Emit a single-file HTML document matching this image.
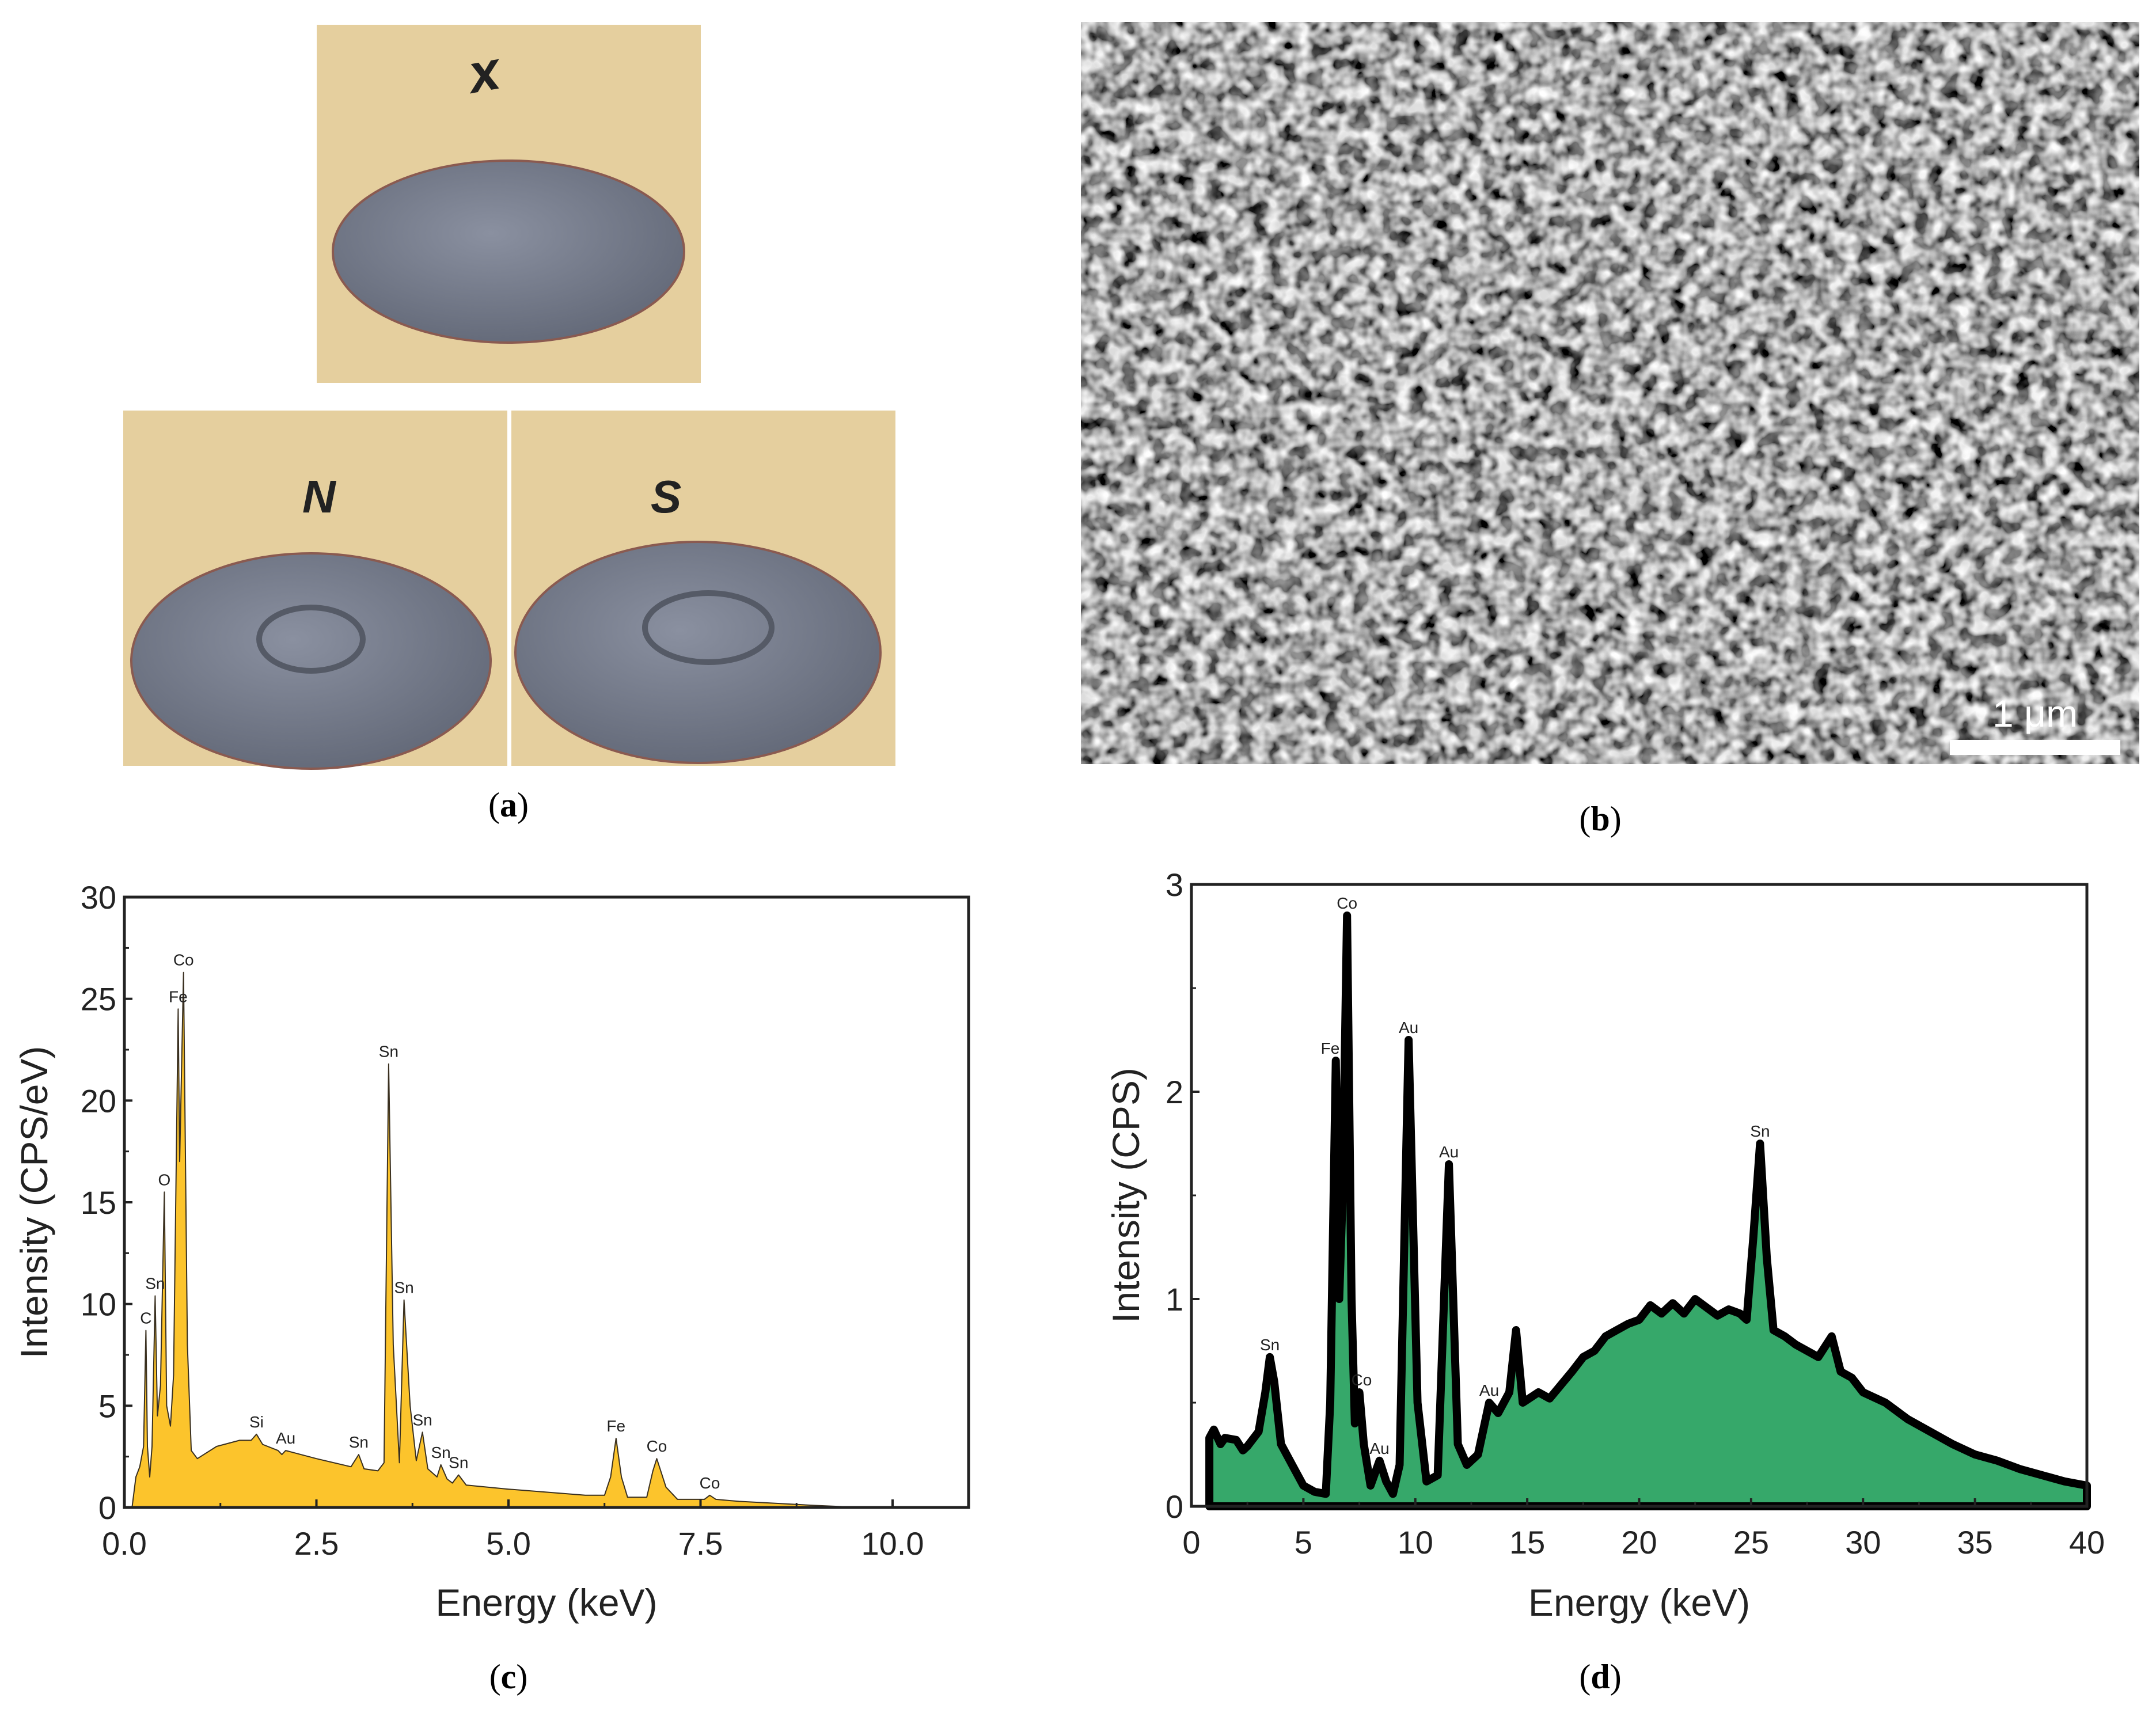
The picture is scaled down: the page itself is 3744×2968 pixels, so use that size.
<!DOCTYPE html>
<html><head><meta charset="utf-8"><style>
html,body{margin:0;padding:0;background:#fff}
body{width:3744px;height:2968px;position:relative;overflow:hidden;font-family:"Liberation Sans",sans-serif}
svg{position:absolute;left:0;top:0}
</style></head><body>
<svg id="fig" width="3744" height="2968" viewBox="0 0 3744 2968">
<defs>
<filter id="sem" x="0" y="0" width="100%" height="100%">
<feTurbulence type="fractalNoise" baseFrequency="0.04" numOctaves="2" seed="4" result="n"/>
<feComponentTransfer in="n" result="g"><feFuncR type="linear" slope="2.8" intercept="-1.0"/><feFuncG type="linear" slope="2.8" intercept="-1.0"/><feFuncB type="linear" slope="2.8" intercept="-1.0"/><feFuncA type="linear" slope="0" intercept="1"/></feComponentTransfer>
<feColorMatrix type="saturate" values="0" in="g"/>
</filter>
<radialGradient id="coin" cx="0.45" cy="0.4" r="0.7"><stop offset="0" stop-color="#8a90a0"/><stop offset="1" stop-color="#5f6574"/></radialGradient>
</defs>
<!-- panel a photos -->
<g>
<rect x="550" y="43" width="667" height="622" fill="#e5cf9e"/>
<ellipse cx="883" cy="437" rx="305" ry="158" fill="url(#coin)" stroke="#8a5a50" stroke-width="4"/>
<text x="820" y="160" font-size="95" font-weight="bold" font-style="italic" fill="#222" transform="rotate(-10 830 160)">x</text>
</g>
<g>
<rect x="214" y="713" width="667" height="617" fill="#e5cf9e"/>
<ellipse cx="540" cy="1148" rx="312" ry="187" fill="url(#coin)" stroke="#8a5a50" stroke-width="4"/>
<ellipse cx="540" cy="1110" rx="90" ry="55" fill="none" stroke="#555a66" stroke-width="10"/>
<text x="525" y="890" font-size="80" font-weight="bold" font-style="italic" fill="#222">N</text>
</g>
<rect x="881" y="713" width="7" height="617" fill="#fff"/>
<g>
<rect x="888" y="713" width="667" height="617" fill="#e5cf9e"/>
<ellipse cx="1212" cy="1133" rx="317" ry="192" fill="url(#coin)" stroke="#8a5a50" stroke-width="4"/>
<ellipse cx="1230" cy="1090" rx="110" ry="60" fill="none" stroke="#555a66" stroke-width="10"/>
<text x="1130" y="890" font-size="80" font-weight="bold" font-style="italic" fill="#222">S</text>
</g>
<!-- panel b SEM -->
<g>
<rect x="1877" y="38" width="1838" height="1289" fill="#666" filter="url(#sem)"/>
<rect x="3386" y="1285" width="296" height="26" fill="#fff"/>
<text x="3534" y="1262" font-size="66" fill="#fff" text-anchor="middle">1 μm</text>
</g>
<g font-family="Liberation Serif, serif" font-size="60" text-anchor="middle">
<text x="883" y="1418">(<tspan font-weight="bold">a</tspan>)</text>
<text x="2779" y="1442">(<tspan font-weight="bold">b</tspan>)</text>
<text x="883" y="2932">(<tspan font-weight="bold">c</tspan>)</text>
<text x="2779" y="2932">(<tspan font-weight="bold">d</tspan>)</text>
</g>
<g id="chartC"></g>
<g id="chartD"></g>
</svg>
<script>
// Chart C data
const cEnergy=[0.1,0.15,0.2,0.25,0.28,0.3,0.33,0.36,0.4,0.43,0.47,0.52,0.55,0.6,0.64,0.7,0.72,0.77,0.82,0.87,0.95,1.2,1.5,1.65,1.72,1.8,2.0,2.05,2.1,2.5,2.95,3.05,3.12,3.3,3.38,3.44,3.5,3.58,3.64,3.72,3.8,3.88,3.95,4.07,4.12,4.2,4.27,4.35,4.45,5.0,6.0,6.25,6.33,6.4,6.47,6.55,6.8,6.88,6.93,7.05,7.2,7.55,7.62,7.7,8.0,9.0,9.6];
const cIntensity=[0,1.5,2,3,8.7,3,1.5,3,10.4,4.5,6,15.5,5,4,6.5,24.5,17,26.3,8,2.8,2.4,3,3.3,3.3,3.6,3.1,2.8,2.6,2.8,2.4,2.0,2.6,1.9,1.8,2.2,21.8,8,2.2,10.2,5,2.3,3.7,1.9,1.5,2.1,1.4,1.2,1.6,1.1,0.9,0.6,0.6,1.5,3.4,1.5,0.5,0.5,1.8,2.4,1.0,0.4,0.4,0.6,0.4,0.3,0.1,0];
const cXTicks=[0,2.5,5,7.5,10];
const cXTickLabels=["0.0","2.5","5.0","7.5","10.0"];
const cYTicks=[0,5,10,15,20,25,30];
const cPeakLabels=["C","Sn","O","Fe","Co","Si","Au","Sn","Sn","Sn","Sn","Sn","Sn","Fe","Co","Co"];
const cPeakE=[0.28,0.4,0.52,0.7,0.77,1.72,2.1,3.05,3.44,3.64,3.88,4.12,4.35,6.4,6.93,7.62];
const cPeakY=[8.7,10.4,15.5,24.5,26.3,3.6,2.8,2.6,21.8,10.2,3.7,2.1,1.6,3.4,2.4,0.6];
// Chart D data
const dEnergy=[0.8,0.8,1,1.3,1.5,2,2.3,2.5,3,3.3,3.5,3.7,4,4.5,5,5.5,6,6.2,6.45,6.6,6.75,6.95,7.15,7.3,7.5,7.7,8,8.4,8.7,9,9.3,9.7,10.1,10.5,11,11.5,11.9,12.3,12.8,13.3,13.7,14.2,14.5,14.8,15.5,16,17,17.5,18,18.5,19,19.5,20,20.5,21,21.5,22,22.5,23,23.5,24,24.5,24.8,25.1,25.4,25.7,26,26.5,27,27.5,28,28.6,29,29.5,30,31,32,33,34,35,36,37,38,39,40,40];
const dIntensity=[0,0.33,0.37,0.3,0.33,0.32,0.27,0.29,0.36,0.55,0.72,0.6,0.3,0.2,0.1,0.07,0.06,0.5,2.15,1.0,1.5,2.85,1.0,0.4,0.55,0.3,0.1,0.22,0.12,0.06,0.2,2.25,0.5,0.12,0.15,1.65,0.3,0.2,0.25,0.5,0.45,0.55,0.85,0.5,0.55,0.52,0.65,0.72,0.75,0.82,0.85,0.88,0.9,0.97,0.93,0.98,0.93,1.0,0.96,0.92,0.95,0.93,0.9,1.3,1.75,1.2,0.85,0.82,0.78,0.75,0.72,0.82,0.65,0.62,0.55,0.5,0.42,0.36,0.3,0.25,0.22,0.18,0.15,0.12,0.1,0];
const dXTicks=[0,5,10,15,20,25,30,35,40];
const dYTicks=[0,1,2,3];
const dPeakLabels=["Sn","Fe","Co","Co","Au","Au","Au","Au","Sn"];
const dPeakE=[3.5,6.2,6.95,7.6,8.4,9.7,11.5,13.3,25.4];
const dPeakY=[0.72,2.15,2.85,0.55,0.22,2.25,1.65,0.5,1.75];

const NS="http://www.w3.org/2000/svg";
function mk(p,tag,attrs){const e=document.createElementNS(NS,tag);for(const k in attrs)e.setAttribute(k,attrs[k]);p.appendChild(e);return e;}

function chart(g,o){
  const X=v=>o.x0+(v-o.xmin)/(o.xmax-o.xmin)*(o.x1-o.x0);
  const Y=v=>o.y0-(v-o.ymin)/(o.ymax-o.ymin)*(o.y0-o.y1);
  const pts=o.ex.map((e,i)=>X(e).toFixed(1)+","+Y(o.iy[i]).toFixed(1)).join(" ");
  const area=mk(g,"polygon",{points:pts,fill:o.fill,stroke:o.stroke,"stroke-width":o.sw,"stroke-linejoin":"round"});
  
  
  const frame=mk(g,"rect",{x:o.frameX0,y:o.y1,width:o.frameX1-o.frameX0,height:o.y0-o.y1,fill:"none",stroke:"#222","stroke-width":5});
  
  
  o.xt.forEach((t,i)=>{
    mk(g,"line",{x1:X(t),x2:X(t),y1:o.y0,y2:o.y0-14,stroke:"#222","stroke-width":4});
    const tx=mk(g,"text",{x:X(t),y:o.y0+82,"font-size":56,"text-anchor":"middle",fill:"#222"});
    tx.textContent=o.xl[i];
    
    
    if(i<o.xt.length-1){const m=(t+o.xt[i+1])/2;mk(g,"line",{x1:X(m),x2:X(m),y1:o.y0,y2:o.y0-8,stroke:"#222","stroke-width":3});}
  });
  o.yt.forEach((t,i)=>{
    mk(g,"line",{x1:o.frameX0,x2:o.frameX0+14,y1:Y(t),y2:Y(t),stroke:"#222","stroke-width":4});
    const ty=mk(g,"text",{x:o.frameX0-14,y:Y(t)+20,"font-size":56,"text-anchor":"end",fill:"#222"});
    ty.textContent=String(t);
    
    
    if(i<o.yt.length-1){const m=(t+o.yt[i+1])/2;mk(g,"line",{x1:o.frameX0,x2:o.frameX0+8,y1:Y(m),y2:Y(m),stroke:"#222","stroke-width":3});}
  });
  o.pl.forEach((l,i)=>{
    const t=mk(g,"text",{x:X(o.pe[i]),y:Y(o.py[i])-12,"font-size":28,"text-anchor":"middle",fill:"#222"});
    t.textContent=l;
    
    
  });
  const xt=mk(g,"text",{x:(o.frameX0+o.frameX1)/2,y:o.xtY,"font-size":66,"text-anchor":"middle",fill:"#222"});
  xt.textContent="Energy (keV)";
  
  
  const yt=mk(g,"text",{x:o.ytX,y:(o.y0+o.y1)/2,"font-size":66,"text-anchor":"middle",fill:"#222",transform:`rotate(-90 ${o.ytX} ${(o.y0+o.y1)/2})`});
  yt.textContent=o.ytitle;
  
  
}
chart(document.getElementById("chartC"),{x0:216,x1:1550,xmin:0,xmax:10,y0:2618,y1:1558,ymin:0,ymax:30,frameX0:216,frameX1:1682,
  ex:cEnergy,iy:cIntensity,fill:"#fcc42c",stroke:"#3a3020",sw:2,xt:cXTicks,xl:cXTickLabels,yt:cYTicks,
  pl:cPeakLabels,pe:cPeakE,py:cPeakY,xtY:2806,ytX:82,ytitle:"Intensity (CPS/eV)"});
chart(document.getElementById("chartD"),{x0:2069,x1:3624,xmin:0,xmax:40,y0:2616,y1:1536,ymin:0,ymax:3,frameX0:2069,frameX1:3624,
  ex:dEnergy,iy:dIntensity,fill:"#36a86a",stroke:"#000",sw:14,xt:dXTicks,xl:dXTicks.map(String),yt:dYTicks,
  pl:dPeakLabels,pe:dPeakE,py:dPeakY,xtY:2806,ytX:1978,ytitle:"Intensity (CPS)"});
</script>
</body></html>
